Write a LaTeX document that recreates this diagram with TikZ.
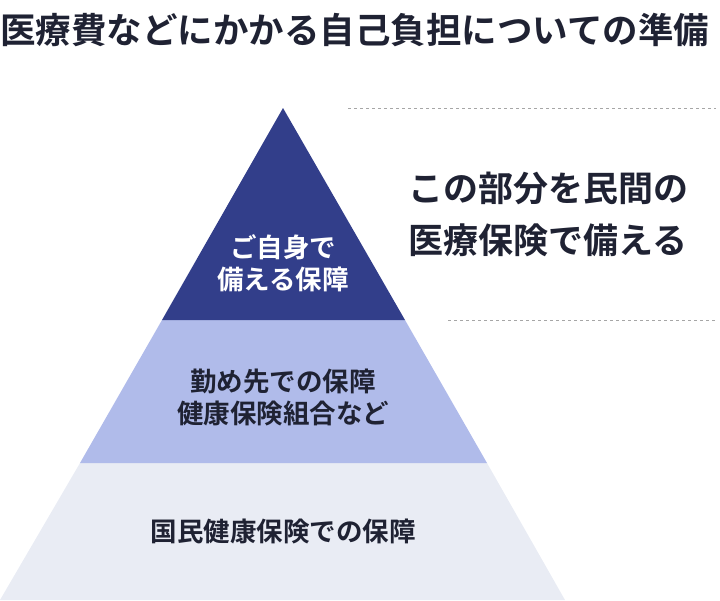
\documentclass[tikz,border=0pt]{standalone}
\usepackage{fontspec}
\setmainfont{Noto Sans CJK JP}
\newfontfamily\jpb{Noto Sans CJK JP Bold}
\begin{document}
\begin{tikzpicture}[x=1pt,y=-1pt]
\definecolor{dk}{HTML}{323E8A}
\definecolor{md}{HTML}{B0BBEA}
\definecolor{lt}{HTML}{E9ECF4}
\definecolor{tx}{HTML}{1F2233}
\tikzset{lbl/.style={font=\jpb\fontsize{26.5}{32}\selectfont,align=center,text=tx},
dash line/.style={draw=gray!70,dashed,line width=1pt}}
\useasboundingbox (0,0) rectangle (720,600);
\fill[lt] (0,600) -- (80,463) -- (487,463) -- (565,600) -- cycle;
\fill[md] (80,463) -- (162,320) -- (405,320) -- (487,463) -- cycle;
\fill[dk] (162,320) -- (283,108) -- (405,320) -- cycle;
\coordinate (d1a) at (348,108); \coordinate (d1b) at (716,108);
\coordinate (d2a) at (448,320); \coordinate (d2b) at (716,320);
\draw[dash line] (d1a) -- (d1b);
\draw[dash line] (d2a) -- (d2b);
\node[anchor=west,inner sep=0pt,font=\jpb\fontsize{35.5}{40}\selectfont,text=tx] (title) at (0,30) {医療費などにかかる自己負担についての準備};
\node[lbl,text=white] (t1) at (283,263) {ご自身で\\備える保障};
\node[lbl] (t2) at (283,397) {勤め先での保障\\健康保険組合など};
\node[lbl] (t3) at (283,531) {国民健康保険での保障};
\node[font=\jpb\fontsize{35}{52}\selectfont,align=center,text=tx] (r) at (548,214) {この部分を民間の\\医療保険で備える};
\end{tikzpicture}
\end{document}
